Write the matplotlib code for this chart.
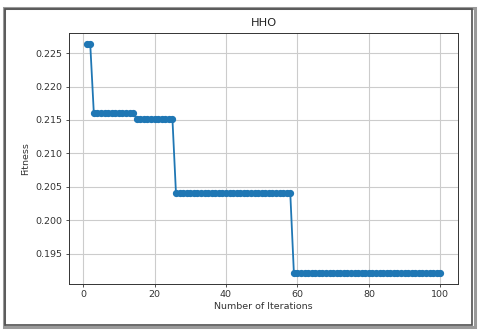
import matplotlib
matplotlib.use("Agg")
import matplotlib.pyplot as plt
from matplotlib.patches import Rectangle

# Data: best fitness per iteration
iterations = list(range(1, 101))
level_values = [0.2263, 0.2160, 0.2152, 0.2040, 0.19216]
level_ends = [2, 14, 25, 58, 100]   # last iteration of each level
fitness = []
start = 1
for v, e in zip(level_values, level_ends):
    fitness += [v] * (e - start + 1)
    start = e + 1

title = "HHO"
xlabel = "Number of Iterations"
ylabel = "Fitness"

W, H = 480, 332
fig = plt.figure(figsize=(W / 100, H / 100), dpi=100)
fig.patch.set_facecolor("white")

# screenshot-like frame
fig.patches.append(Rectangle((3.5 / W, 1 - 326.5 / H), 471 / W, 319 / H,
                             transform=fig.transFigure, fill=False,
                             edgecolor="#9a9a9a", lw=2.2, zorder=0))
fig.patches.append(Rectangle((5 / W, 1 - 324.5 / H), 467 / W, 316 / H,
                             transform=fig.transFigure, fill=False,
                             edgecolor="#505050", lw=1.2, zorder=0))

ax = fig.add_axes([69 / W, 1 - 284 / H, (458 - 69) / W, (284 - 33) / H])
ax.plot(iterations, fitness, marker="o", color="#1f77b4", lw=1.3, markersize=4.2)
ax.grid(True, color="#cccccc", lw=0.8)
ax.set_axisbelow(True)
ax.set_xticks([0, 20, 40, 60, 80, 100])
ax.set_yticks([0.195, 0.200, 0.205, 0.210, 0.215, 0.220, 0.225])
ax.tick_params(labelsize=6.8, length=2.5, width=0.6, pad=2, colors="#333333")
for s in ax.spines.values():
    s.set_linewidth(0.7)
    s.set_color("#333333")
ax.set_title(title, fontsize=8.2, pad=5, color="#222222")
ax.set_xlabel(xlabel, fontsize=6.8, labelpad=2, color="#333333")
ax.set_ylabel(ylabel, fontsize=6.8, labelpad=4, color="#333333")

fig.savefig("out.png", dpi=100)
